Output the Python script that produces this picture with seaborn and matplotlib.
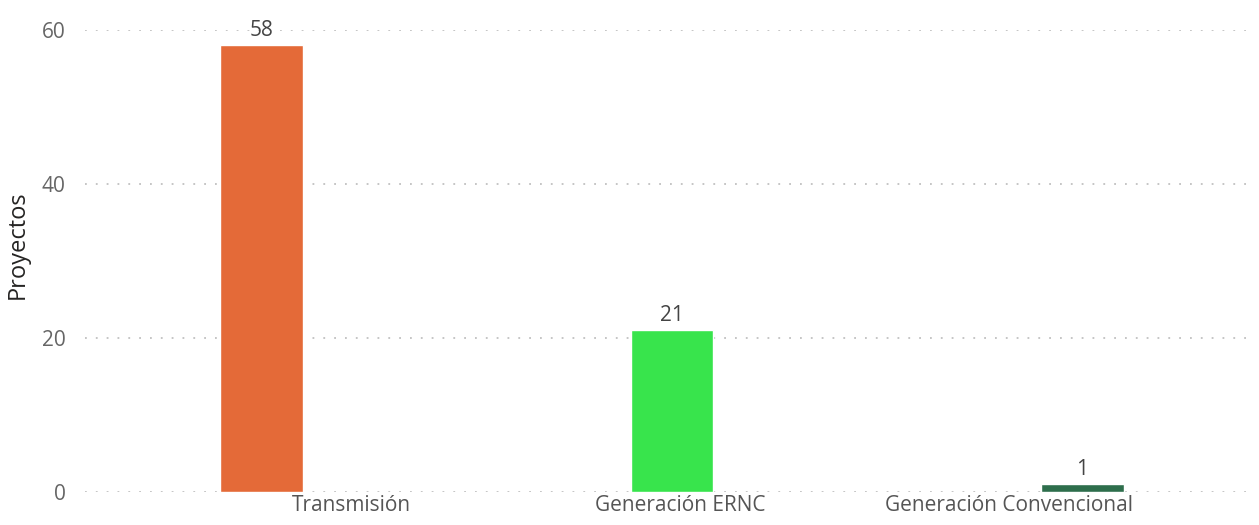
import pandas as pd
import seaborn as sns
import matplotlib.pyplot as plt

categorias = ["Transmisión", "Generación ERNC", "Generación Convencional"]
proyectos = [58, 21, 1]
colores = ["#E46A38", "#38E44C", "#2E6E4C"]
yticks = [0, 20, 40, 60]

df = pd.DataFrame({"Categoria": categorias, "Proyectos": proyectos})

sns.set_theme(style="white")
plt.rcParams["font.family"] = ["Open Sans", "DejaVu Sans"]

fig = plt.figure(figsize=(12.59, 5.25), dpi=100)
ax = fig.add_axes([0.0675, 0.063, 0.926, 0.88])

sns.barplot(
    data=df,
    x="Categoria",
    y="Proyectos",
    hue="Categoria",
    palette=colores,
    width=0.2,
    legend=False,
    saturation=1,
    ax=ax,
)

for cont in ax.containers:
    ax.bar_label(cont, padding=3, fontsize=15, color="#444444", clip_on=False)

ax.set_xlim(-0.43, 2.41)
ax.set_ylim(0, 60)
ax.set_yticks(yticks)
ax.set_yticklabels([str(t) for t in yticks], fontsize=15, color="#666666")
# etiquetas del eje x desplazadas como en el original
ax.set_xticks([0.22, 1.02, 1.82])
ax.set_xticklabels(categorias, fontsize=15, color="#555555")
ax.tick_params(axis="y", length=0, pad=14)
ax.tick_params(axis="x", length=0, pad=2)

ax.set_xlabel("")
ax.set_ylabel("Proyectos", fontsize=17, color="#252423")
ax.yaxis.set_label_coords(-0.047, 0.535)

ax.yaxis.grid(True, linestyle=(0, (1, 5)), color="#C0C0C0", linewidth=1.3)
ax.set_axisbelow(True)
for s in ax.spines.values():
    s.set_visible(False)

fig.savefig("out.png", dpi=100)
